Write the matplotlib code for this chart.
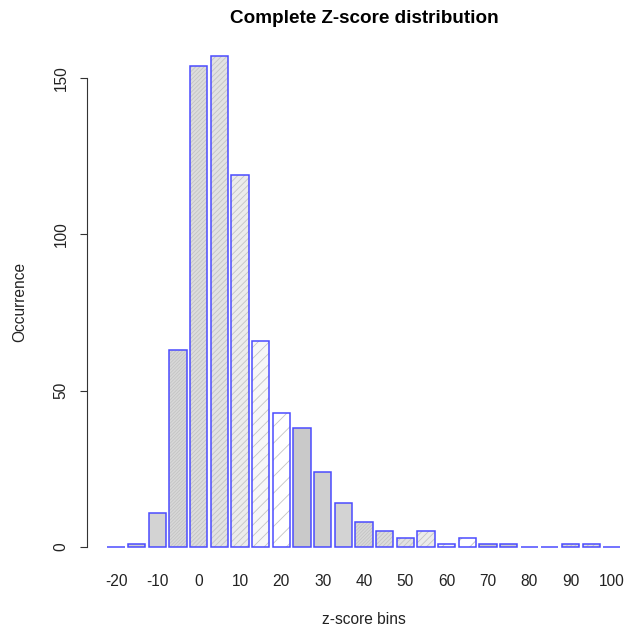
import matplotlib
matplotlib.use("Agg")
import matplotlib.pyplot as plt
import numpy as np

# z-score bins (bin centres) and counts
bin_labels = [-20, -15, -10, -5, 0, 5, 10, 15, 20, 25, 30, 35, 40, 45, 50,
              55, 60, 65, 70, 75, 80, 85, 90, 95, 100]
counts = [0, 1, 11, 63, 154, 157, 119, 66, 43, 38, 24, 14, 8, 5, 3,
          5, 1, 3, 1, 1, 0, 0, 1, 1, 0]
tick_labels = ["-20", "-10", "0", "10", "20", "30", "40", "50", "60",
               "70", "80", "90", "100"]
y_ticks = [0, 50, 100, 150]

# fill styles cycle every 9 bars (dense shading -> sparse hatch)
faces = ["#c9c9c9", "#cfcfcf", "#d3d3d3", "#d8d8d8", "#dcdcdc",
         "#e2e2e2", "#ebebeb", "#f7f7f7", "#ffffff"]
hatches = [None, None, None, "//////////", "////////", "//////",
           "/////", "///", "//"]

plt.rcParams["font.family"] = ["Liberation Sans", "DejaVu Sans"]
plt.rcParams["hatch.linewidth"] = 0.6

fig = plt.figure(figsize=(6.25, 6.31), dpi=100)
W, H = 625, 631
left, right, top, bottom = 86.9, 641.0, 36.5, 566.6
ax = fig.add_axes([left / W, 1 - bottom / H, (right - left) / W, (bottom - top) / H])

n = len(counts)
x = 0.7 + 1.2 * np.arange(n)
style_idx = np.arange(n) % len(faces)

for i in range(n):
    ax.bar(x[i], counts[i], width=1.0, color=faces[style_idx[i]],
           hatch=hatches[style_idx[i]], edgecolor="#c4c4c4", linewidth=0)
ax.bar(x, counts, width=1.0, fill=False, edgecolor="#4b4bff", linewidth=1.1)

ax.set_xlim(-0.992, 31.192)
ax.set_ylim(-6.28, 163.28)

ax.set_xticks(x[::2])
ax.set_xticklabels(tick_labels, fontsize=11.2, color="#222222")
ax.tick_params(axis="x", length=0, pad=5)

ax.set_yticks(y_ticks)
ax.set_yticklabels([str(v) for v in y_ticks], fontsize=11.2, rotation=90,
                   va="center", color="#222222")
ax.tick_params(axis="y", length=5, width=0.8, pad=8, color="#333333")

for side in ["top", "right", "bottom"]:
    ax.spines[side].set_visible(False)
ax.spines["left"].set_bounds(0, 150)
ax.spines["left"].set_linewidth(0.8)
ax.spines["left"].set_color("#333333")

ax.set_title("Complete Z-score distribution", fontsize=13.6, fontweight="bold", pad=10)
ax.set_xlabel("z-score bins", fontsize=11.2, labelpad=17, color="#222222")
ax.set_ylabel("Occurrence", fontsize=11.2, labelpad=19, color="#222222")

fig.savefig("out.png", dpi=100)
